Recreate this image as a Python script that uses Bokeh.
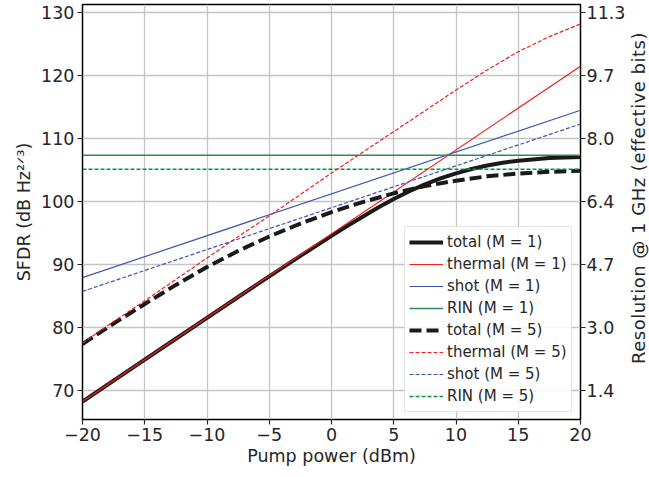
from bokeh.plotting import figure
from bokeh.models import LinearAxis, FixedTicker, Legend, LegendItem, Range1d, Div
from bokeh.layouts import row
from bokeh.embed import file_html
from bokeh.resources import INLINE

# ---------------- data ----------------
pump_ends = [-20, 20]
thermal_m1 = [68.2, 121.5]
shot_m1 = [87.9, 114.5]
rin_m1 = [107.35, 107.35]
shot_m5 = [85.7, 112.3]
rin_m5 = [105.1, 105.1]

pump_fine = [-20, -17.5, -15, -12.5, -10, -7.5, -5, -2.5, 0, 1.25, 2.5, 3.75,
             5, 6.25, 7.5, 8.75, 10, 11.25, 12.5, 13.75, 15, 17.5, 20]
total_m1 = [68.2, 71.52, 74.86, 78.18, 81.5, 84.81, 88.1, 91.34, 94.53, 96.07,
            97.57, 99.02, 100.38, 101.62, 102.72, 103.65, 104.45, 105.15, 105.7,
            106.15, 106.48, 106.89, 107.07]

pump_grid = [-20, -17.5, -15, -12.5, -10, -7.5, -5, -2.5, 0, 2.5, 5, 7.5,
             10, 12.5, 15, 17.5, 20]
thermal_m5 = [77.5, 80.9, 84.2, 87.6, 91.0, 94.4, 97.7, 101.1, 104.5, 107.8,
              111.1, 114.4, 117.7, 120.9, 123.8, 126.2, 128.2]
total_m5 = [77.33, 80.6, 83.69, 86.73, 89.57, 92.13, 94.43, 96.48, 98.31, 99.9,
            101.29, 102.44, 103.3, 103.99, 104.43, 104.7, 104.87]

x_ticks = [-20, -15, -10, -5, 0, 5, 10, 15, 20]
x_tick_labels = ["\u221220", "\u221215", "\u221210", "\u22125", "0", "5", "10", "15", "20"]
sfdr_ticks = [70, 80, 90, 100, 110, 120, 130]
enob_labels = ["1.4", "3.0", "4.7", "6.4", "8.0", "9.7", "11.3"]

series_labels = ["total (M = 1)", "thermal (M = 1)", "shot (M = 1)", "RIN (M = 1)",
                 "total (M = 5)", "thermal (M = 5)", "shot (M = 5)", "RIN (M = 5)"]

x_title = "Pump power (dBm)"
y_title = "SFDR (dB Hz\u00b2\u141f\u00b3)"
y2_title = "Resolution @ 1 GHz (effective bits)"

# ---------------- styling ----------------
FONT = "DejaVu Sans"
TXT = "#262626"
BLACK = "#1a1a1a"
RED = "#f21d1d"
BLUE = "#3a56b0"
GREEN = "#2e8b57"
GREEN_D = "#009933"

p = figure(width=630, height=477, output_backend="svg", toolbar_location=None,
           x_range=Range1d(-20, 20), y_range=Range1d(65.34, 131.3),
           min_border_left=82, min_border_right=50, min_border_top=4,
           min_border_bottom=58)
p.background_fill_color = "white"
p.border_fill_color = "white"
p.outline_line_color = "black"
p.outline_line_width = 1.5
p.outline_line_alpha = 1.0

def style_axis(ax):
    ax.axis_line_color = None
    ax.major_tick_out = 5
    ax.major_tick_in = 0
    ax.minor_tick_out = 0
    ax.minor_tick_in = 0
    ax.major_tick_line_color = TXT
    ax.major_tick_line_width = 1.2
    ax.major_label_text_font = FONT
    ax.major_label_text_font_size = "17.5px"
    ax.major_label_text_color = TXT
    ax.axis_label_text_font = FONT
    ax.axis_label_text_font_size = "17.5px"
    ax.axis_label_text_color = TXT
    ax.axis_label_text_font_style = "normal"

p.xaxis.ticker = FixedTicker(ticks=x_ticks)
p.xaxis.major_label_overrides = dict(zip(x_ticks, x_tick_labels))
p.xaxis.axis_label = x_title
p.xaxis.major_label_standoff = 3
p.xaxis.axis_label_standoff = 2
style_axis(p.xaxis[0])

p.yaxis.ticker = FixedTicker(ticks=sfdr_ticks)
p.yaxis.major_label_standoff = 3
p.yaxis.axis_label = y_title
p.yaxis.axis_label_standoff = 4
style_axis(p.yaxis[0])

ax_r = LinearAxis(ticker=FixedTicker(ticks=sfdr_ticks),
                  major_label_overrides=dict(zip(sfdr_ticks, enob_labels)))
style_axis(ax_r)
ax_r.major_label_standoff = 1
p.add_layout(ax_r, "right")

p.xgrid.grid_line_color = "#c4c4c4"
p.ygrid.grid_line_color = "#c4c4c4"
p.xgrid.grid_line_width = 1.3
p.ygrid.grid_line_width = 1.3

# ---------------- lines ----------------
r_t1 = p.line(pump_fine, total_m1, line_color=BLACK, line_width=4, line_join="round")
r_th1 = p.line(pump_ends, thermal_m1, line_color=RED, line_width=1.2)
r_s1 = p.line(pump_ends, shot_m1, line_color=BLUE, line_width=1.2)
r_r1 = p.line(pump_ends, rin_m1, line_color=GREEN, line_width=1.6)
r_t5 = p.line(pump_grid, total_m5, line_color=BLACK, line_width=4, line_dash="12 5")
r_th5 = p.line(pump_grid, thermal_m5, line_color=RED, line_width=1.2, line_dash="4 2")
r_s5 = p.line(pump_ends, shot_m5, line_color=BLUE, line_width=1.2, line_dash="4 2")
r_r5 = p.line(pump_ends, rin_m5, line_color=GREEN_D, line_width=1.5, line_dash="4 2")

renderers = [r_t1, r_th1, r_s1, r_r1, r_t5, r_th5, r_s5, r_r5]
legend = Legend(items=[LegendItem(label=l, renderers=[r]) for l, r in zip(series_labels, renderers)],
                location=(322, 7))
legend.label_text_font = FONT
legend.label_text_font_size = "15px"
legend.label_text_color = TXT
legend.glyph_width = 34
legend.glyph_height = 22
legend.label_height = 22
legend.label_standoff = 4
legend.spacing = 0
legend.padding = 4
legend.margin = 0
legend.border_line_color = "#cccccc"
legend.border_line_width = 1
legend.background_fill_color = "white"
legend.background_fill_alpha = 0.85
p.add_layout(legend)

# right-hand axis title, reading bottom to top
right_title = Div(
    text=('<div style="writing-mode: vertical-rl; transform: rotate(180deg); '
          'white-space: nowrap; font-family: \'DejaVu Sans\'; font-size: 18px; '
          'letter-spacing: 0.5px; line-height: 17px; color: #262626; '
          'margin-top: 32px;">' + y2_title + '</div>'),
    width=19, height=477, margin=0)

layout = row(p, right_title, spacing=0)
open("out.html", "w").write(file_html(layout, INLINE))
